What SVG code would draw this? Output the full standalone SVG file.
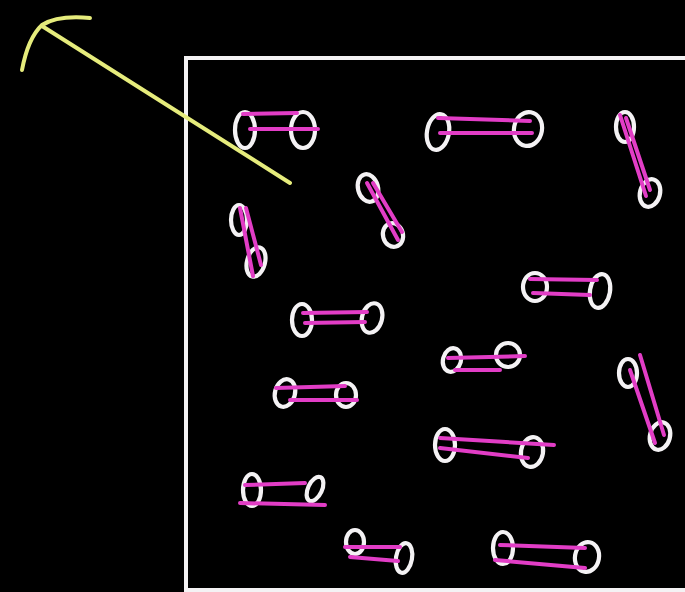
<svg xmlns="http://www.w3.org/2000/svg" width="685" height="592" viewBox="0 0 685 592">
<style>
.a{fill:none;stroke:#f4f2f4;stroke-width:4.2;stroke-linecap:round}
.b{fill:none;stroke:#e23dc6;stroke-width:4;stroke-linecap:round}
.y{fill:none;stroke:#e6ec7c;stroke-width:4;stroke-linecap:round;stroke-linejoin:round}
</style>
<rect width="685" height="592" fill="#000"/>
<rect x="186" y="58" width="520" height="532" fill="none" stroke="#f4f2f4" stroke-width="4"/>
<g id="arrow">
<path class="y" d="M290 183 L42 26"/>
<path class="y" d="M90 18 Q58 15 42 25 Q28 38 22 70"/>
</g>
<g id="m1"><ellipse class="a" cx="245" cy="130" rx="10" ry="18"/><ellipse class="a" cx="303" cy="130" rx="12" ry="18"/><path class="b" d="M243 114 L297 113 M250 129 L318 129"/></g>
<g id="m2"><ellipse class="a" cx="438" cy="132" rx="11" ry="18" transform="rotate(10 438 132)"/><ellipse class="a" cx="528" cy="129" rx="14" ry="17" transform="rotate(10 528 129)"/><path class="b" d="M438 118 L530 121 M440 133 L532 133"/></g>
<g id="m3"><ellipse class="a" cx="625" cy="127" rx="9" ry="15"/><ellipse class="a" cx="650" cy="193" rx="10" ry="14" transform="rotate(15 650 193)"/><path class="b" d="M620 115 L646 196 M626 118 L650 190"/></g>
<g id="m4"><ellipse class="a" cx="368" cy="188" rx="10" ry="14" transform="rotate(-15 368 188)"/><ellipse class="a" cx="393" cy="235" rx="10" ry="12" transform="rotate(-15 393 235)"/><path class="b" d="M367 183 L398 240 M373 183 L402 232"/></g>
<g id="m5"><ellipse class="a" cx="239" cy="220" rx="8" ry="15"/><ellipse class="a" cx="256" cy="262" rx="9" ry="15" transform="rotate(15 256 262)"/><path class="b" d="M240 208 L253 276 M246 208 L261 265"/></g>
<g id="m6"><ellipse class="a" cx="535" cy="287" rx="12" ry="14"/><ellipse class="a" cx="600" cy="291" rx="10" ry="17" transform="rotate(10 600 291)"/><path class="b" d="M530 279 L597 280 M533 293 L590 295"/></g>
<g id="m7"><ellipse class="a" cx="302" cy="320" rx="10" ry="16"/><ellipse class="a" cx="372" cy="318" rx="10" ry="15" transform="rotate(15 372 318)"/><path class="b" d="M303 313 L367 312 M305 323 L365 322"/></g>
<g id="m8"><ellipse class="a" cx="285" cy="393" rx="10" ry="14" transform="rotate(15 285 393)"/><ellipse class="a" cx="346" cy="395" rx="10" ry="12"/><path class="b" d="M276 388 L345 386 M290 400 L357 400"/></g>
<g id="m9"><ellipse class="a" cx="452" cy="360" rx="9" ry="12" transform="rotate(15 452 360)"/><ellipse class="a" cx="508" cy="355" rx="12" ry="12"/><path class="b" d="M448 358 L525 356 M455 370 L500 370"/></g>
<g id="m10"><ellipse class="a" cx="628" cy="373" rx="9" ry="14"/><ellipse class="a" cx="660" cy="436" rx="10" ry="14" transform="rotate(15 660 436)"/><path class="b" d="M640 355 L664 435 M630 370 L655 443"/></g>
<g id="m11"><ellipse class="a" cx="445" cy="445" rx="10" ry="16"/><ellipse class="a" cx="532" cy="452" rx="11" ry="15" transform="rotate(10 532 452)"/><path class="b" d="M440 438 L554 445 M440 448 L528 458"/></g>
<g id="m12"><ellipse class="a" cx="252" cy="490" rx="9" ry="16"/><ellipse class="a" cx="315" cy="489" rx="7" ry="13" transform="rotate(25 315 489)"/><path class="b" d="M245 485 L305 483 M240 503 L325 505"/></g>
<g id="m13"><ellipse class="a" cx="355" cy="542" rx="9" ry="12"/><ellipse class="a" cx="404" cy="558" rx="8" ry="15" transform="rotate(10 404 558)"/><path class="b" d="M345 547 L400 547 M350 557 L398 561"/></g>
<g id="m14"><ellipse class="a" cx="503" cy="548" rx="10" ry="16"/><ellipse class="a" cx="587" cy="557" rx="12" ry="15" transform="rotate(10 587 557)"/><path class="b" d="M500 545 L585 548 M495 560 L585 568"/></g>
</svg>
